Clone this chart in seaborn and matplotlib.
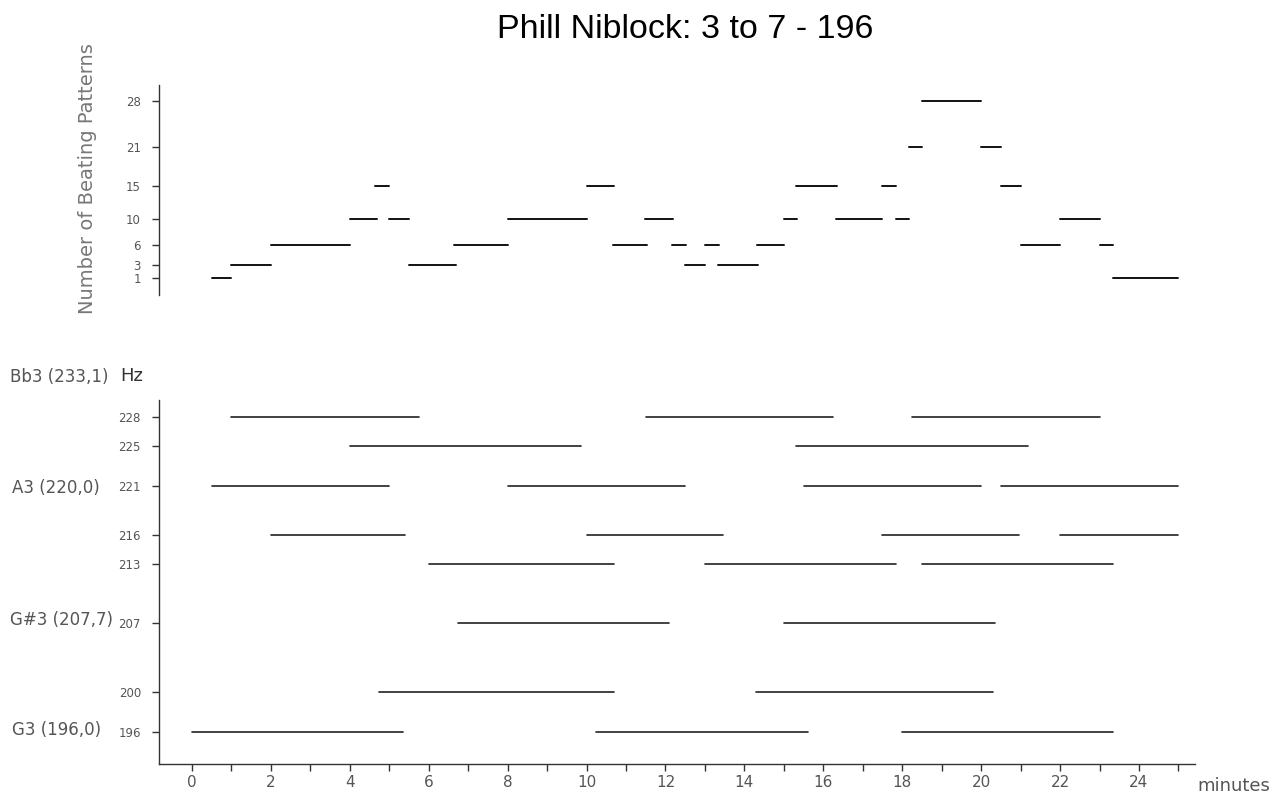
import numpy as np
import pandas as pd
import matplotlib
matplotlib.use("Agg")
import matplotlib.pyplot as plt
import seaborn as sns

# ---------------- data ----------------
title = "Phill Niblock: 3 to 7 - 196"

# Beating patterns: (start minute, end minute, count)
beat_start = [0.5, 1.0, 2.0, 4.0, 4.65, 5.0, 5.5, 6.64, 8.0, 10.0, 10.66, 11.49, 12.16, 12.49,
              13.0, 13.32, 14.32, 15.0, 15.32, 16.33, 17.5, 17.84, 18.17, 18.5, 20.0, 20.5,
              21.0, 22.0, 23.0, 23.35]
beat_end = [1.0, 2.0, 4.0, 4.7, 5.0, 5.5, 6.68, 8.0, 10.0, 10.7, 11.52, 12.19, 12.53, 13.0,
            13.36, 14.34, 15.0, 15.34, 16.35, 17.5, 17.85, 18.18, 18.5, 20.0, 20.5, 21.0,
            22.0, 23.0, 23.35, 25.0]
beat_value = [1, 3, 6, 10, 15, 10, 3, 6, 10, 15, 6, 10, 6, 3,
              6, 3, 6, 10, 15, 10, 15, 10, 21, 28, 21, 15,
              6, 10, 6, 1]
beat_ticks = [1, 3, 6, 10, 15, 21, 28]

# Tones: (start minute, end minute, frequency Hz)
tone_start = [1.0, 11.5, 18.25,
              4.0, 15.3,
              0.5, 8.0, 15.5, 20.5,
              2.0, 10.0, 17.5, 22.0,
              6.0, 13.0, 18.5,
              6.75, 15.0,
              4.75, 14.3,
              0.0, 10.25, 18.0]
tone_end = [5.75, 16.25, 23.0,
            9.85, 21.2,
            5.0, 12.5, 20.0, 25.0,
            5.4, 13.45, 20.95, 25.0,
            10.7, 17.85, 23.35,
            12.1, 20.35,
            10.7, 20.3,
            5.35, 15.6, 23.35]
tone_freq = [228, 228, 228,
             225, 225,
             221, 221, 221, 221,
             216, 216, 216, 216,
             213, 213, 213,
             207, 207,
             200, 200,
             196, 196, 196]
freq_ticks = [196, 200, 207, 213, 216, 221, 225, 228]
note_labels = ["Bb3 (233,1)", "A3 (220,0)", "G#3 (207,7)", "G3 (196,0)"]
x_ticks = list(range(0, 26))
x_ticklabels = [str(t) if t % 2 == 0 else "" for t in x_ticks]


def segments_frame(starts, ends, values):
    rows = []
    for i, (s, e, v) in enumerate(zip(starts, ends, values)):
        rows.append({"seg": i, "t": s, "v": v})
        rows.append({"seg": i, "t": e, "v": v})
    return pd.DataFrame(rows)


beat_df = segments_frame(beat_start, beat_end, beat_value)
tone_df = segments_frame(tone_start, tone_end, tone_freq)

# ---------------- figure ----------------
sns.set_theme(style="white")
plt.rcParams["font.family"] = ["DejaVu Sans"]

W, H = 1282, 796
fig = plt.figure(figsize=(W / 100, H / 100), dpi=100)


def frac_rect(x0, y0, x1, y1):
    return [x0 / W, 1 - y1 / H, (x1 - x0) / W, (y1 - y0) / H]


xlim = (-0.836, 25.42)
ax_top = fig.add_axes(frac_rect(159, 85, 1195, 295))
ax_bot = fig.add_axes(frac_rect(159, 400, 1195, 764))

gray = "#555555"
spine_c = "#333333"

sns.lineplot(data=beat_df, x="t", y="v", units="seg", estimator=None,
             color="#111111", lw=1.4, ax=ax_top, legend=False)
sns.lineplot(data=tone_df, x="t", y="v", units="seg", estimator=None,
             color="#222222", lw=1.2, ax=ax_bot, legend=False)

for ax in (ax_top, ax_bot):
    ax.set_xlim(*xlim)
    ax.set_xlabel("")
    ax.set_ylabel("")
    ax.spines["top"].set_visible(False)
    ax.spines["right"].set_visible(False)
    ax.spines["left"].set_color(spine_c)
    ax.spines["left"].set_linewidth(1.0)
    ax.tick_params(axis="y", direction="out", length=5, width=1, color=spine_c,
                   labelsize=8.5, labelcolor=gray, pad=8, left=True)

# top
ax_top.set_ylim(-1.54, 30.4)
ax_top.set_yticks(beat_ticks)
ax_top.set_yticklabels([str(v) for v in beat_ticks])
ax_top.spines["bottom"].set_visible(False)
ax_top.set_xticks([])

# bottom
ax_bot.set_ylim(192.7, 229.7)
ax_bot.set_yticks(freq_ticks)
ax_bot.set_yticklabels([str(v) for v in freq_ticks])
ax_bot.spines["bottom"].set_color(spine_c)
ax_bot.spines["bottom"].set_linewidth(1.0)
ax_bot.set_xticks(x_ticks)
ax_bot.set_xticklabels(x_ticklabels)
ax_bot.tick_params(axis="x", direction="out", length=5, width=1, color=spine_c,
                   labelsize=11, labelcolor=gray, pad=3, bottom=True)

# texts
fig.text(685 / W, 1 - 38 / H, title, ha="center", va="baseline",
         fontsize=24.5, family="Liberation Sans", color="black")
fig.text(88 / W, 1 - 179 / H, "Number of Beating Patterns", rotation=90,
         ha="center", va="center", fontsize=14, color="#777777")
fig.text(10 / W, 1 - 377 / H, note_labels[0], ha="left", va="center",
         fontsize=12, color=gray)
fig.text(120 / W, 1 - 376 / H, "Hz", ha="left", va="center",
         fontsize=13, color="#333333")
fig.text(12 / W, 1 - 488 / H, note_labels[1], ha="left", va="center",
         fontsize=12, color=gray)
fig.text(10 / W, 1 - 620 / H, note_labels[2], ha="left", va="center",
         fontsize=12, color=gray)
fig.text(12 / W, 1 - 730 / H, note_labels[3], ha="left", va="center",
         fontsize=12, color=gray)
fig.text(1234 / W, 1 - 786 / H, "minutes", ha="center", va="center",
         fontsize=13, color=gray)

fig.savefig("out.png", dpi=100)
